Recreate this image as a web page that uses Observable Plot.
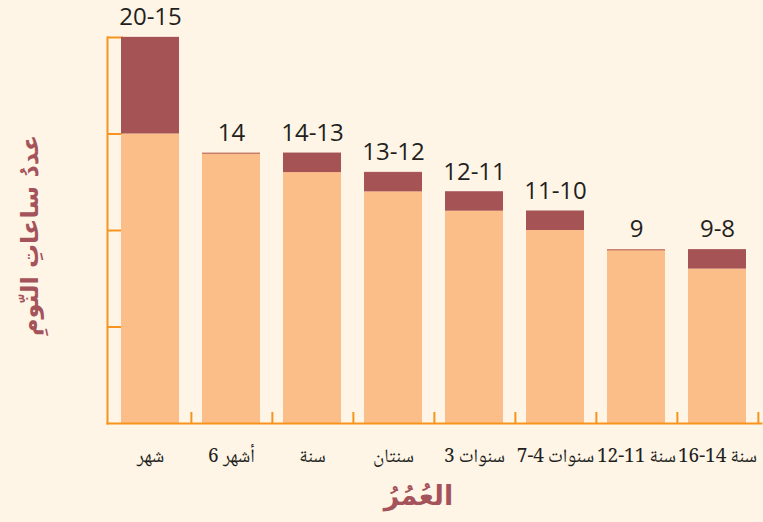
<!DOCTYPE html>
<html>
<head>
<meta charset="utf-8">
<script src="https://cdn.jsdelivr.net/npm/d3@7"></script>
<script src="https://cdn.jsdelivr.net/npm/@observablehq/plot@0.6"></script>
<style>
  html, body { margin: 0; padding: 0; background: #fef5e7; }
  #chart { width: 763px; height: 522px; }
</style>
</head>
<body>
<div id="chart"></div>
<script>
const ages = ["شهر", "6 أشهر", "سنة", "سنتان", "3 سنوات", "7-4 سنوات", "12-11 سنة", "16-14 سنة"];
const minHours = [15, 14, 13, 12, 11, 10, 9, 8];
const maxHours = [20, 14, 14, 13, 12, 11, 9, 9];
const valueLabels = ["20-15", "14", "14-13", "13-12", "12-11", "11-10", "9", "9-8"];
const yTicks = [5, 10, 15, 20];
const yTitle = "عددُ ساعاتِ النّومِ";
const xTitle = "العُمُرُ";

const data = ages.map((a, i) => ({age: a, min: minHours[i], max: maxHours[i], label: valueLabels[i]}));

const W = 763, H = 522, mL = 107, mR = 2, mT = 37, mB = 99;
const step = (W - mL - mR) / 8;
const axisColor = "#f7941d";
const titleColor = "#a5535a";
const arFont = "'Noto Naskh Arabic', 'Noto Sans Arabic', 'DejaVu Sans Condensed', 'DejaVu Sans', sans-serif";

const chart = Plot.plot({
  width: W, height: H,
  marginTop: mT, marginBottom: mB, marginLeft: mL, marginRight: mR,
  style: {background: "transparent", overflow: "visible"},
  x: {type: "band", domain: ages, paddingInner: 0.28, paddingOuter: 0.14, axis: null},
  y: {domain: [0, 20], axis: null},
  marks: [
    Plot.axisY({ticks: yTicks, tickSize: 16, dx: 16, tickFormat: () => "", stroke: axisColor, strokeWidth: 2, label: null}),
    Plot.axisX({tickSize: 11, dx: step / 2, dy: -11, tickFormat: () => "", stroke: axisColor, strokeWidth: 2, label: null}),
    Plot.barY(data, {x: "age", y1: 0, y2: "min", fill: "#fcbe88"}),
    Plot.tickY(data, {x: "age", y: "max", stroke: "#a65356", strokeWidth: 1.5, strokeOpacity: 0.6}),
    Plot.barY(data, {x: "age", y1: "min", y2: "max", fill: "#a65356"}),
    Plot.frame({anchor: "left", stroke: axisColor, strokeWidth: 2}),
    Plot.frame({anchor: "bottom", stroke: axisColor, strokeWidth: 2}),
    Plot.text(data, {x: "age", y: "max", text: "label", dy: -20, fontSize: 24, fill: "#231f20", fontFamily: "Open Sans"}),
    Plot.axisX({tickSize: 0, tickPadding: 25, fontSize: 19, fill: "#231f20", fontFamily: arFont, label: null}),
    Plot.text([yTitle], {frameAnchor: "left", textAnchor: "middle", dx: -77, dy: 5, rotate: -90, fontSize: 24, fontWeight: "bold", fill: titleColor, fontFamily: "DejaVu Sans"}),
    Plot.text([xTitle], {frameAnchor: "bottom", textAnchor: "middle", dx: -16, dy: 81, fontSize: 27, fontWeight: "bold", fill: titleColor, fontFamily: "DejaVu Sans"})
  ]
});
document.getElementById("chart").appendChild(chart);
</script>
</body>
</html>
